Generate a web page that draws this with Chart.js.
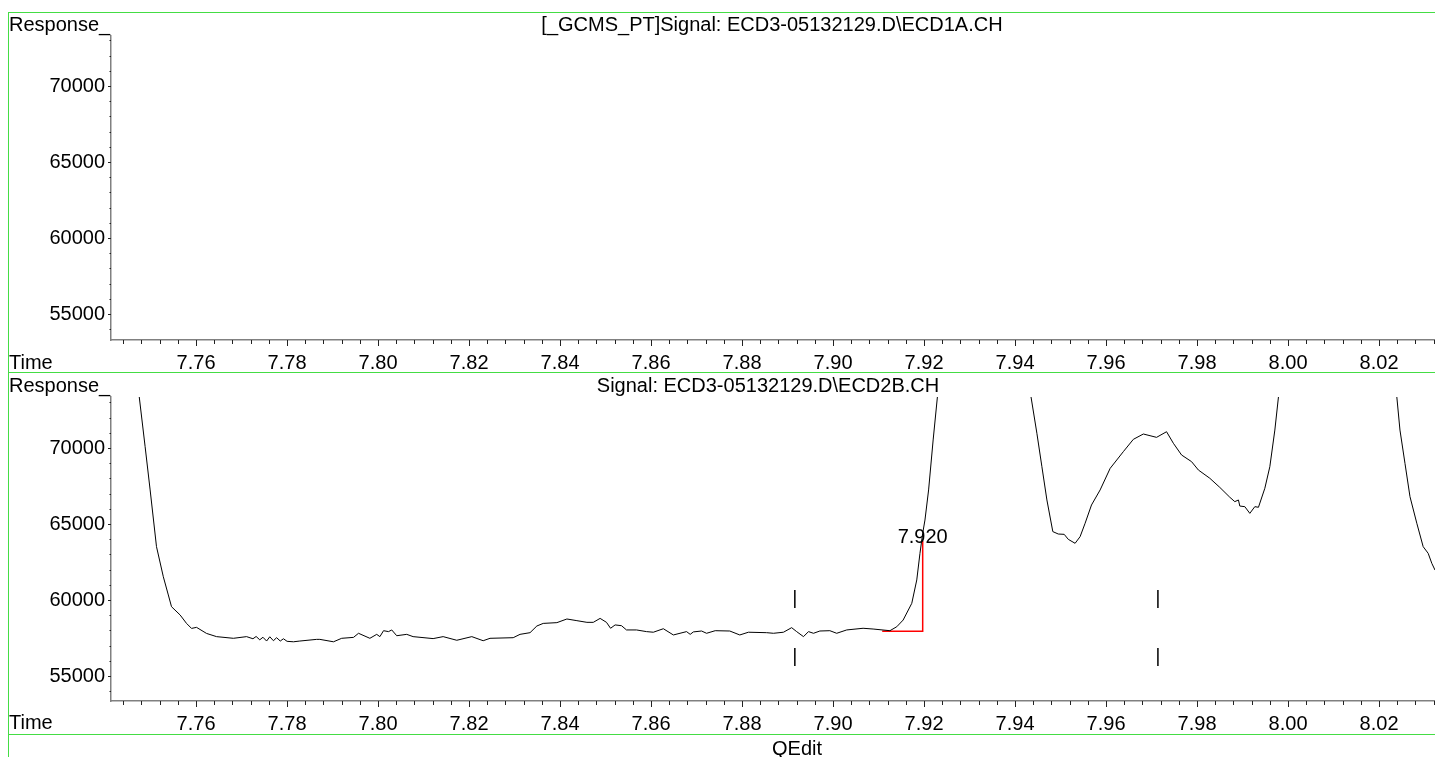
<!DOCTYPE html>
<html><head><meta charset="utf-8">
<script src="https://cdn.jsdelivr.net/npm/chart.js@4.4.1/dist/chart.umd.min.js"></script>
<style>
html,body{margin:0;padding:0;background:#fff;width:1435px;height:757px;overflow:hidden;font-family:"Liberation Sans",Arial,sans-serif;}
.lbl{position:absolute;font-size:20px;line-height:22px;color:#000;white-space:nowrap;z-index:5;}
.ctr{transform:translateX(-50%);}
.g{position:absolute;background:#44dd44;z-index:6;}
canvas{position:absolute;left:0;}
</style></head><body>
<canvas id="c1" width="1435" height="364" style="top:16px"></canvas>
<canvas id="c2" width="1435" height="364" style="top:377px"></canvas>
<div class="g" style="left:8px;top:12px;width:1427px;height:1px"></div>
<div class="g" style="left:8px;top:12px;width:1px;height:745px"></div>
<div class="g" style="left:8px;top:372px;width:1427px;height:1px"></div>
<div class="g" style="left:8px;top:734px;width:1427px;height:1px"></div>
<div class="lbl" style="left:9px;top:13px">Response_</div>
<div class="lbl ctr" style="left:772px;top:13px">[_GCMS_PT]Signal: ECD3-05132129.D\ECD1A.CH</div>
<div class="lbl" style="left:9px;top:351px">Time</div>
<div class="lbl" style="left:9px;top:374px">Response_</div>
<div class="lbl ctr" style="left:768px;top:374px">Signal: ECD3-05132129.D\ECD2B.CH</div>
<div class="lbl" style="left:9px;top:711px">Time</div>
<div class="lbl ctr" style="left:797px;top:737px">QEdit</div>
<script>
// ---- data ----
const xMin = 7.7413, xMax = 8.0323;
const xMajorStep = 0.02, xMinorStep = 0.004;
const yMajorStep = 5000, yMinorStep = 1000;
const topRange = [53290, 73290];
const bottomRange = [53355, 73355];

// top panel (ECD1A): no trace inside the visible window
const timesA = [];
const respA = [];

// bottom panel (ECD2B) trace; null separates off-scale parts
const timesB = [
7.7471, 7.7475, 7.7488, 7.7499, 7.7513, 7.7528, 7.7539, 7.7546, 7.7565, 7.7579, 7.7590, 7.7601, 7.7623, 7.7645, 7.7682, 7.7711,
7.7725, 7.7732, 7.7740, 7.7747, 7.7755, 7.7762, 7.7770, 7.7777, 7.7785, 7.7792, 7.7800,
7.7814, 7.7828, 7.7865, 7.7872, 7.7902, 7.7920, 7.7946, 7.7957, 7.7982, 7.7997, 7.8004, 7.8012, 7.8023, 7.8030, 7.8041,
7.8063, 7.8077, 7.8121, 7.8143, 7.8173, 7.8206, 7.8231, 7.8246, 7.8297, 7.8312, 7.8334, 7.8349, 7.8363, 7.8393, 7.8415,
7.8437, 7.8459, 7.8473, 7.8488, 7.8502, 7.8511, 7.8521, 7.8535, 7.8546, 7.8568, 7.8590, 7.8605, 7.8627, 7.8649, 7.8678,
7.8686, 7.8693, 7.8711, 7.8722, 7.8741, 7.8773, 7.8795, 7.8814, 7.8854, 7.8869, 7.8891, 7.8909, 7.8920, 7.8935, 7.8946,
7.8957, 7.8971, 7.8993, 7.9008, 7.9030, 7.9066, 7.9088, 7.9125, 7.9140, 7.9154, 7.9173, 7.9184, 7.9191, 7.9197, 7.9202,
7.9210, 7.9220, 7.9233,
7.9330,
7.9432, 7.9435, 7.9448, 7.9459, 7.9470, 7.9483, 7.9495, 7.9508, 7.9517, 7.9532, 7.9543, 7.9554, 7.9568, 7.9587, 7.9609,
7.9638, 7.9660, 7.9682, 7.9711, 7.9733, 7.9748, 7.9766, 7.9788, 7.9803, 7.9828, 7.9850, 7.9872, 7.9883, 7.9891, 7.9894,
7.9905, 7.9916, 7.9927, 7.9935, 7.9949, 7.9960, 7.9971, 7.9979, 7.9981,
8.0100,
8.0237, 8.0239, 8.0246, 8.0257, 8.0268, 8.0283, 8.0297, 8.0308, 8.0316, 8.0323, 8.0330
];
const respB = [
74500, 73380, 70090, 67240, 63510, 61530, 60330, 59560, 59010, 58460, 58130, 58200, 57800, 57590, 57480, 57590,
57450, 57600, 57380, 57550, 57300, 57580, 57320, 57520, 57300, 57450, 57280,
57250, 57300, 57410, 57410, 57250, 57480, 57540, 57810, 57480, 57740, 57590, 57980, 57920, 58030, 57650,
57740, 57590, 57460, 57590, 57350, 57590, 57320, 57480, 57520, 57740, 57850, 58290, 58460, 58510, 58750,
58640, 58530, 58530, 58790, 58530, 58140, 58360, 58310, 58030, 58030, 57920, 57880, 58110, 57700, 57920,
57740, 57900, 57960, 57810, 57980, 57960, 57700, 57880, 57850, 57810, 57880, 58180, 57920, 57590, 57920,
57810, 57960, 57980, 57810, 58030, 58140, 58090, 57980, 58240, 58680, 59780, 61320, 63070, 64390, 65260,
67240, 70530, 74470,
null,
74470, 73380, 70970, 68770, 66580, 64500, 64340, 64320, 63990, 63730, 64170, 65050, 66250, 67240, 68660,
69760, 70570, 70920, 70700, 71070, 70310, 69540, 69100, 68550, 68010, 67410, 66760, 66470, 66580, 66180,
66140, 65700, 66140, 66100, 67350, 68770, 71180, 73380, 74470,
null,
74470, 73380, 71180, 68990, 66800, 65050, 63510, 63070, 62410, 61970, 61500
];

// integration baseline / apex drop line (red)
const baseTimes = [7.9108, 7.9197, 7.9197];
const baseResp = [57940, 57940, 63900];
const apexLabel = '7.920';
const apexLabelTime = 7.9197, apexLabelResp = 64080;

// integration event markers ("|"): each has an upper and a lower bar
const markerTimes = [7.8916, 7.9714];
const markerUpperTop = [60660, 60660], markerUpperBottom = [59470, 59470];
const markerLowerTop = [56840, 56840], markerLowerBottom = [55660, 55660];

// ---- helpers ----
const isMult = (v, s) => Math.abs(v / s - Math.round(v / s)) < 1e-4;
const FONT = { family: '"Liberation Sans", Arial, sans-serif', size: 20 };

function alignedTicks(scale, step) {
  const out = [];
  const start = Math.ceil(scale.min / step - 1e-6);
  const end = Math.floor(scale.max / step + 1e-6);
  for (let k = start; k <= end; k++) out.push({ value: +(k * step).toFixed(6) });
  scale.ticks = out;
}

const tickPlugin = {
  id: 'hpTicks',
  afterDraw(chart) {
    const ctx = chart.ctx, xs = chart.scales.x, ys = chart.scales.y;
    ctx.save();
    ctx.strokeStyle = '#222';
    ctx.lineWidth = 1;
    xs.ticks.forEach(t => {
      const px = Math.round(xs.getPixelForValue(t.value)) + 0.5;
      const len = isMult(t.value, xMajorStep) ? 6 : 4;
      ctx.beginPath(); ctx.moveTo(px, xs.top); ctx.lineTo(px, xs.top + len); ctx.stroke();
    });
    ys.ticks.forEach(t => {
      const py = Math.round(ys.getPixelForValue(t.value)) + 0.5;
      const len = isMult(t.value, yMajorStep) ? 3 : 1.5;
      ctx.beginPath(); ctx.moveTo(ys.right, py); ctx.lineTo(ys.right - len, py); ctx.stroke();
    });
    const lab = chart.options.plugins.hpTicks && chart.options.plugins.hpTicks.label;
    if (lab) {
      ctx.fillStyle = '#000';
      ctx.font = '20px "Liberation Sans", Arial, sans-serif';
      ctx.textAlign = 'center';
      ctx.textBaseline = 'middle';
      ctx.fillText(lab.text, xs.getPixelForValue(lab.x), ys.getPixelForValue(lab.y));
    }
    ctx.restore();
  }
};

function makeOptions(range, label) {
  return {
    responsive: false,
    animation: false,
    devicePixelRatio: 1,
    layout: { padding: { top: 20, left: 0, right: 0, bottom: 0 } },
    plugins: { legend: { display: false }, tooltip: { enabled: false }, hpTicks: { label } },
    elements: { point: { radius: 0 }, line: { tension: 0 } },
    scales: {
      x: {
        type: 'linear', min: xMin, max: xMax,
        afterBuildTicks: s => alignedTicks(s, xMinorStep),
        afterFit: s => { s.height = 40; s.paddingLeft = 0; s.paddingRight = 0; },
        ticks: {
          stepSize: xMinorStep, autoSkip: false, maxRotation: 0, padding: 11,
          color: '#000', font: FONT,
          callback: v => isMult(v, xMajorStep) ? v.toFixed(2) : ''
        },
        grid: { drawOnChartArea: false, drawTicks: false },
        border: { display: true, color: '#808080', width: 1.5 }
      },
      y: {
        type: 'linear', min: range[0], max: range[1],
        afterBuildTicks: s => alignedTicks(s, yMinorStep),
        afterFit: s => { s.width = 111; s.paddingTop = 0; s.paddingBottom = 0; },
        ticks: {
          stepSize: yMinorStep, autoSkip: false, padding: 6,
          color: '#000', font: FONT,
          callback: v => isMult(v, yMajorStep) ? String(Math.round(v)) : ''
        },
        grid: { drawOnChartArea: false, drawTicks: false },
        border: { display: true, color: '#808080', width: 1.5 }
      }
    }
  };
}

const toPts = (xs, ys) => xs.map((x, i) => ({ x, y: ys[i] }));

new Chart(document.getElementById('c1'), {
  type: 'line',
  data: { datasets: [{ data: toPts(timesA, respA), borderColor: '#000', borderWidth: 1 }] },
  options: makeOptions(topRange, null),
  plugins: [tickPlugin]
});

const markerSegs = [];
markerTimes.forEach((t, i) => {
  markerSegs.push({ x: t, y: markerUpperTop[i] }, { x: t, y: markerUpperBottom[i] }, { x: t, y: null });
  markerSegs.push({ x: t, y: markerLowerTop[i] }, { x: t, y: markerLowerBottom[i] }, { x: t, y: null });
});

new Chart(document.getElementById('c2'), {
  type: 'line',
  data: { datasets: [
    { data: toPts(timesB, respB), borderColor: '#000', borderWidth: 1, spanGaps: false },
    { data: toPts(baseTimes, baseResp), borderColor: '#ff0000', borderWidth: 1.5 },
    { data: markerSegs, borderColor: '#000', borderWidth: 1.5, spanGaps: false }
  ] },
  options: makeOptions(bottomRange, { text: apexLabel, x: apexLabelTime, y: apexLabelResp }),
  plugins: [tickPlugin]
});
</script>
</body></html>
